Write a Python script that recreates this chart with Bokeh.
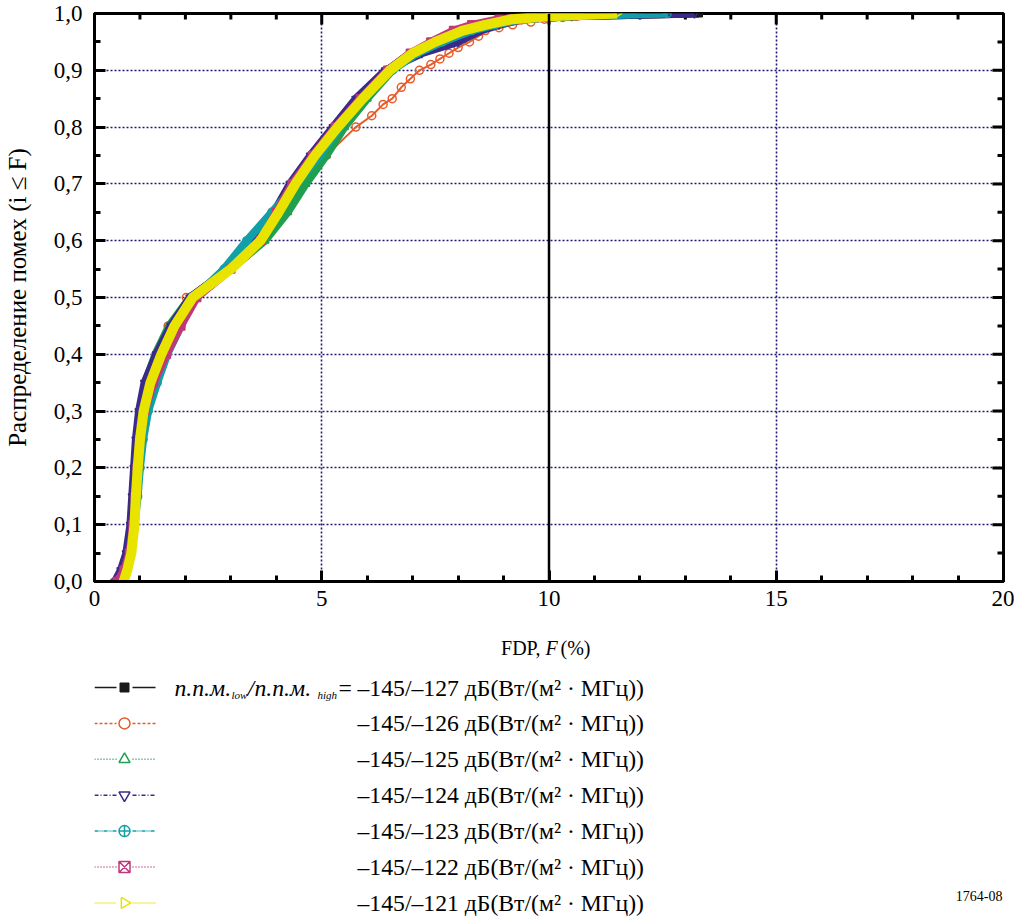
import numpy as np
from bokeh.plotting import figure
from bokeh.models import Range1d, FixedTicker, Span, CustomJSTickFormatter
from bokeh.layouts import column
from bokeh.embed import file_html
from bokeh.resources import INLINE
from bokeh.core.properties import value

# ---------------- data ----------------
prob = [0.0, 0.02, 0.05, 0.1, 0.15, 0.2, 0.25, 0.3, 0.35, 0.4, 0.45, 0.5, 0.55, 0.6,
        0.65, 0.7, 0.75, 0.8, 0.85, 0.9, 0.93, 0.95, 0.97, 0.98, 0.99, 0.995, 1.0]

fdp_127 = [0.55, 0.65, 0.75, 0.82, 0.86, 0.9, 0.95, 1.02, 1.15, 1.38, 1.7, 2.12, 2.95, 3.55,
           4.0, 4.35, 4.8, 5.3, 5.85, 6.45, 6.95, 7.5, 8.2, 8.8, 9.4, 10.5, 13.3]
fdp_125 = [0.52, 0.62, 0.74, 0.83, 0.87, 0.91, 0.96, 1.02, 1.12, 1.34, 1.64, 2.1, 3.0, 3.75,
           4.25, 4.65, 5.1, 5.5, 6.0, 6.55, 7.05, 7.55, 8.15, 8.6, 9.1, 9.7, 10.75]
fdp_124 = [0.45, 0.58, 0.7, 0.79, 0.83, 0.87, 0.91, 0.98, 1.1, 1.36, 1.68, 2.1, 2.95, 3.55,
           3.95, 4.3, 4.75, 5.25, 5.75, 6.4, 7.2, 8.0, 8.5, 8.9, 9.4, 10.5, 13.2]
fdp_123 = [0.55, 0.66, 0.78, 0.88, 0.95, 1.0, 1.07, 1.18, 1.38, 1.6, 1.9, 2.2, 2.85, 3.35,
           3.9, 4.45, 4.95, 5.4, 5.9, 6.55, 7.1, 7.65, 8.3, 8.8, 9.4, 10.4, 12.6]
fdp_122 = [0.5, 0.65, 0.77, 0.85, 0.9, 0.94, 1.0, 1.1, 1.3, 1.58, 1.9, 2.25, 3.0, 3.65,
           4.0, 4.35, 4.8, 5.3, 5.85, 6.45, 6.95, 7.4, 7.9, 8.3, 8.9, 9.6, 10.6]
fdp_121 = [0.64, 0.72, 0.81, 0.88, 0.91, 0.95, 1.0, 1.08, 1.23, 1.47, 1.76, 2.16, 3.0, 3.65,
           4.05, 4.42, 4.85, 5.35, 5.9, 6.5, 7.0, 7.5, 8.1, 8.6, 9.2, 10.0, 11.5]

prob_126 = [0.0, 0.02, 0.05, 0.1, 0.15, 0.2, 0.25, 0.3, 0.35, 0.4, 0.45, 0.5, 0.55, 0.6,
            0.65, 0.7, 0.75, 0.8, 0.82, 0.84, 0.85, 0.87, 0.885, 0.9, 0.91, 0.92, 0.93,
            0.94, 0.95, 0.96, 0.97, 0.975, 0.98, 0.985, 0.99, 0.993, 0.995, 0.998, 1.0]
fdp_126 = [0.5, 0.62, 0.73, 0.82, 0.86, 0.9, 0.96, 1.03, 1.15, 1.38, 1.62, 2.02, 2.9, 3.7,
           4.15, 4.6, 5.1, 5.75, 6.1, 6.35, 6.55, 6.75, 6.95, 7.15, 7.4, 7.6, 7.8,
           8.0, 8.25, 8.45, 8.6, 8.9, 9.2, 9.6, 9.9, 10.3, 10.6, 11.2, 11.95]

legend_texts = ["–145/–127 дБ(Вт/(м² · МГц))",
                "–145/–126 дБ(Вт/(м² · МГц))",
                "–145/–125 дБ(Вт/(м² · МГц))",
                "–145/–124 дБ(Вт/(м² · МГц))",
                "–145/–123 дБ(Вт/(м² · МГц))",
                "–145/–122 дБ(Вт/(м² · МГц))",
                "–145/–121 дБ(Вт/(м² · МГц))"]

x_major = [0, 5, 10, 15, 20]
x_minor = list(range(0, 21))
y_major = [round(0.1 * i, 1) for i in range(11)]
y_minor = [round(0.05 * i, 2) for i in range(21)]

# ---------------- layout constants (pixels) ----------------
FONT = "Liberation Serif"
FRAME_W, FRAME_H = 909, 568
BL, BR, BT, BB = 94, 11, 13, 40
W = BL + FRAME_W + BR
H1 = BT + FRAME_H + BB
H2 = 296
PAGE0 = 1                      # page y of the figure's top edge
Q_TOP = PAGE0 + H1             # page y of legend panel top
Q_BOT = Q_TOP + H2

series = [
    # (x, y, color, marker, legend dash, band width, filled)
    (fdp_127, prob, "#1a1a1a", "square", "solid", 8, True),
    (fdp_126, prob_126, "#e85a28", "circle", "3 2", 2, False),
    (fdp_125, prob, "#1fa050", "triangle", "1 2", 8, False),
    (fdp_124, prob, "#3a2a8a", "inverted_triangle", "4 2 1 2", 8, False),
    (fdp_123, prob, "#12a0a8", "circle_cross", "4 1 1 1 1 1", 8, False),
    (fdp_122, prob, "#c0387a", "square_x", "1 2", 8, False),
    (fdp_121, prob, "#e8e400", "triangle", "1 1", 10, False),
]

# ---------------- main plot ----------------
p = figure(width=W, height=H1, x_range=Range1d(0, 20), y_range=Range1d(0, 1),
           output_backend="svg", toolbar_location=None,
           min_border_left=BL, min_border_right=BR, min_border_top=BT, min_border_bottom=BB)
p.outline_line_color = "black"
p.outline_line_width = 3

p.xaxis.ticker = FixedTicker(ticks=x_major, minor_ticks=x_minor)
p.yaxis.ticker = FixedTicker(ticks=y_major, minor_ticks=y_minor)
p.yaxis.formatter = CustomJSTickFormatter(code="return tick.toFixed(1).replace('.', ',');")
for ax in (p.xaxis[0], p.yaxis[0]):
    ax.axis_line_color = "black"
    ax.axis_line_width = 3
    ax.major_tick_in = 11
    ax.major_tick_out = 0
    ax.minor_tick_in = 6
    ax.minor_tick_out = 0
    ax.major_tick_line_width = 3
    ax.minor_tick_line_width = 3
    ax.major_tick_line_color = "black"
    ax.minor_tick_line_color = "black"
    ax.major_label_text_font = FONT
    ax.major_label_text_font_size = "23px"
    ax.major_label_text_color = "black"
p.xaxis.major_label_standoff = 9
p.yaxis.major_label_standoff = 12
p.yaxis.axis_label = "Распределение помех (i ≤ F)"
p.yaxis.axis_label_text_font = FONT
p.yaxis.axis_label_text_font_size = "25px"
p.yaxis.axis_label_text_font_style = "normal"
p.yaxis.axis_label_text_color = "black"
p.yaxis.axis_label_standoff = 20

# mirrored inward ticks on top and right edges
px_x = FRAME_W / 20.0
px_y = FRAME_H / 1.0
top_len = [(11 if t in x_major else 6) / px_y for t in x_minor]
p.segment(x0=x_minor, y0=[1.0] * len(x_minor), x1=x_minor, y1=[1.0 - l for l in top_len],
          line_color="black", line_width=3)
right_len = [(11 if t in y_major else 6) / px_x for t in y_minor]
p.segment(x0=[20.0] * len(y_minor), y0=y_minor, x1=[20.0 - l for l in right_len], y1=y_minor,
          line_color="black", line_width=3)

p.xgrid.ticker = FixedTicker(ticks=[5, 15])
p.ygrid.ticker = FixedTicker(ticks=y_major[1:-1])
for g in (p.xgrid[0], p.ygrid[0]):
    g.grid_line_color = "#1e1a6e"
    g.grid_line_dash = "2 2"
    g.grid_line_width = 1.6

p.add_layout(Span(location=10, dimension="height", line_color="black", line_width=2.5))

for xs, ys, col, mk, dash, bw, fill in series:
    p.line(xs, ys, line_color=col, line_width=bw, line_join="round")
    if fill:
        p.scatter(xs, ys, marker=mk, size=7, line_color=col, fill_color=col)
    elif col == "#e8e400":
        p.scatter(xs, ys, marker=mk, size=8, angle=-np.pi / 2, line_color=col,
                  fill_color=None, line_width=1.5)
    else:
        p.scatter(xs, ys, marker=mk, size=8, line_color=col, fill_color=None, line_width=1.5)

# ---------------- legend / x-title panel (coordinates = page pixels) ----------------
q = figure(width=W, height=H2,
           x_range=Range1d(PAGE0 + BL, PAGE0 + BL + FRAME_W),
           y_range=Range1d(Q_BOT, Q_TOP),
           output_backend="svg", toolbar_location=None,
           min_border_left=BL, min_border_right=BR, min_border_top=0, min_border_bottom=0,
           x_axis_type=None, y_axis_type=None)
q.outline_line_color = None
q.grid.visible = False

def txt(x, y, s, size="23.7px", style="normal", align="left"):
    q.text(x=[x], y=[y], text=[s], text_font=value(FONT), text_font_size=size,
           text_font_style=style, text_align=align, text_baseline="middle",
           text_color="black")

# x axis title: "FDP, F (%)"
txt(541, 648, "FDP,", size="20px", align="right")
txt(546, 648, "F", size="20px", style="italic")
txt(561, 648, "(%)", size="20px")

row0, dy = 688, 35.9
for i, (xs, ys, col, mk, dash, bw, fill) in enumerate(series):
    yy = row0 + dy * i
    q.segment(x0=[95, 133], y0=[yy, yy], x1=[117, 156], y1=[yy, yy],
              line_color=col, line_width=1.5, line_dash=dash)
    if fill:
        q.scatter([125], [yy], marker=mk, size=9, line_color=col, fill_color=col)
    elif col == "#e8e400":
        q.scatter([125], [yy], marker=mk, size=11, angle=-np.pi / 2, line_color=col,
                  fill_color=None, line_width=1.5)
    else:
        q.scatter([125], [yy], marker=mk, size=11, line_color=col, fill_color=None,
                  line_width=1.5)
    txt(358, yy, legend_texts[i])

# first-row prefix: п.п.м._low/п.п.м._high =
txt(175, row0, "п.п.м.", style="italic")
txt(232, row0 + 7, "low", size="11px", style="italic")
txt(248, row0, "/", style="italic")
txt(255, row0, "п.п.м.", style="italic")
txt(318, row0 + 7, "high", size="11px", style="italic")
txt(339, row0, "=")

txt(1003, 896, "1764-08", size="14px", align="right")

layout = column(p, q, spacing=0)
open("out.html", "w").write(file_html(layout, INLINE))
